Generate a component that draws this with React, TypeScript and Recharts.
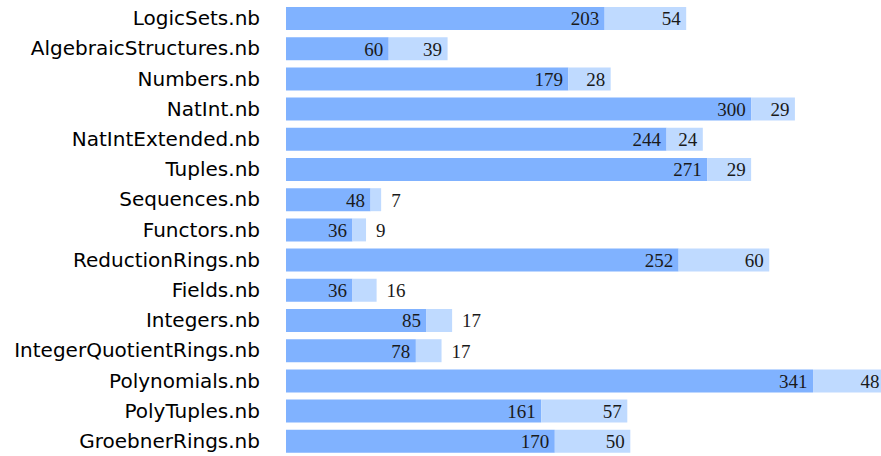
import { BarChart, Bar, XAxis, YAxis, LabelList } from "recharts";

// Notebook files, top to bottom
const files = [
  "LogicSets.nb",
  "AlgebraicStructures.nb",
  "Numbers.nb",
  "NatInt.nb",
  "NatIntExtended.nb",
  "Tuples.nb",
  "Sequences.nb",
  "Functors.nb",
  "ReductionRings.nb",
  "Fields.nb",
  "Integers.nb",
  "IntegerQuotientRings.nb",
  "Polynomials.nb",
  "PolyTuples.nb",
  "GroebnerRings.nb",
];

// Dark segment values
const coreValues = [203, 60, 179, 300, 244, 271, 48, 36, 252, 36, 85, 78, 341, 161, 170];

// Light segment values
const extraValues = [54, 39, 28, 29, 24, 29, 7, 9, 60, 16, 17, 17, 48, 57, 50];

// Axis range (bars start at the left edge of the axis)
const xMin = -8;
const xMax = 386;

const data = files.map((name, i) => ({
  name,
  core: coreValues[i],
  extra: extraValues[i],
}));

const DARK = "#80b2ff";
const LIGHT = "#bfdaff";
const CHART_W = 881;

//  Value label: inside the right end if it fits, otherwise just past the bar
const renderValue = (props: any) => {
  const vb = props.viewBox || props;
  const x = Number(vb.x ?? props.x);
  const y = Number(vb.y ?? props.y);
  const width = Number(vb.width ?? props.width);
  const height = Number(vb.height ?? props.height);
  const inside = width >= 30;
  // keep the text inside the picture when the bar runs off the edge
  const tx = inside ? Math.min(x + width - 5.5, CHART_W - 1.5) : x + width + 10;
  return (
    <text
      x={tx}
      y={y + height / 2}
      dy="0.36em"
      textAnchor={inside ? "end" : "start"}
      fontFamily="'Liberation Serif', serif"
      fontSize={19}
      fill="#1a1a1a"
    >
      {props.value}
    </text>
  );
};

const App = () => {
  return (
    <div
      style={{
        position: "absolute",
        left: 0,
        top: 0,
        width: CHART_W,
        height: 456,
        overflow: "hidden",
        background: "#fff",
      }}
    >
      <BarChart
        width={CHART_W}
        height={456}
        data={data}
        layout="vertical"
        margin={{ top: 3, right: 0, bottom: 0, left: 0 }}
        barGap={-23}
      >
        <XAxis
          type="number"
          domain={[xMin, xMax]}
          allowDataOverflow
          hide
        />
        <YAxis
          type="category"
          dataKey="name"
          width={286}
          tickLine={false}
          axisLine={false}
          tickMargin={20}
          interval={0}
          tick={{ fontSize: 20, fill: "#000", fontFamily: "'DejaVu Sans', sans-serif" }}
        />
        <Bar
          dataKey={(d: any) => [xMin, d.core]}
          fill={DARK}
          barSize={23}
          isAnimationActive={false}
        >
          <LabelList dataKey="core" content={renderValue} />
        </Bar>
        <Bar
          dataKey={(d: any) => [d.core, d.core + d.extra]}
          fill={LIGHT}
          barSize={23}
          isAnimationActive={false}
        >
          <LabelList dataKey="extra" content={renderValue} />
        </Bar>
      </BarChart>
    </div>
  );
};

export default App;
